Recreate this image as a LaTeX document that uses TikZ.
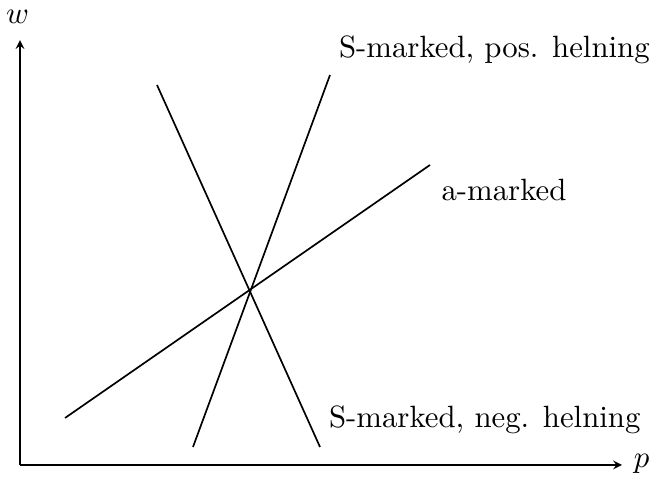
\documentclass[tikz,border=0pt]{standalone}
\begin{document}
\begin{tikzpicture}[>=stealth, font=\fontsize{10.95}{13.6}\selectfont]
\useasboundingbox (-0.25,-0.4625) rectangle (7.9375,5.8125);
\coordinate (origo) at (0,0);
\coordinate (ytop) at (0,5.31);
\coordinate (xend) at (7.525,0);
\node (w) at (-0.03,5.6) {$w$};
\node[anchor=west] (p) at (7.55,0.02) {$p$};
\coordinate (pos1) at (2.1625,0.225);
\coordinate (pos2) at (3.875,4.875);
\coordinate (neg1) at (1.7125,4.75);
\coordinate (neg2) at (3.75,0.225);
\coordinate (a1) at (0.5625,0.5875);
\coordinate (a2) at (5.125,3.75);
\node (poslabel) at (5.93,5.19) {S-marked, pos. helning};
\node (alabel) at (6.05,3.44) {a-marked};
\node (neglabel) at (5.81,0.56) {S-marked, neg. helning};
\draw[->] (origo) -- (ytop);
\draw[->] (origo) -- (xend);
\draw[semithick] (pos1) -- (pos2);
\draw[semithick] (neg1) -- (neg2);
\draw[semithick] (a1) -- (a2);
\end{tikzpicture}
\end{document}
